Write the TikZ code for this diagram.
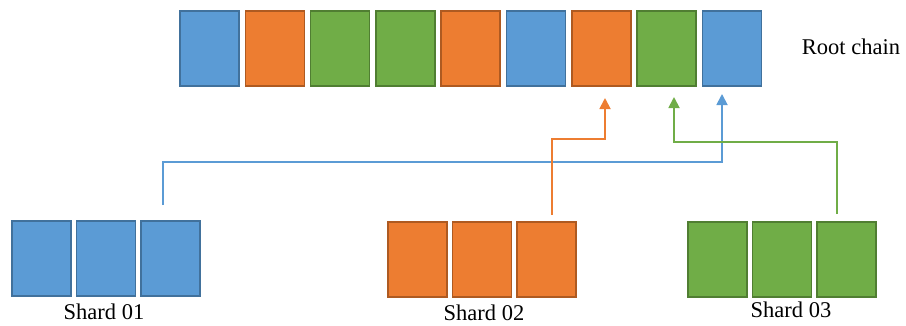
\documentclass[tikz,border=0pt]{standalone}
\usepackage{fontspec}
\setmainfont{Liberation Serif}
\usetikzlibrary{arrows.meta}
\definecolor{bluefill}{HTML}{5B9BD5}
\definecolor{blueedge}{HTML}{41719C}
\definecolor{orangefill}{HTML}{ED7D31}
\definecolor{orangeedge}{HTML}{AE5A21}
\definecolor{greenfill}{HTML}{70AD47}
\definecolor{greenedge}{HTML}{507E32}
\tikzset{
  block/.style={rectangle, inner sep=0pt, outer sep=0pt, line width=1.6pt,
    minimum width=59pt, minimum height=75pt, anchor=north west},
  bblock/.style={block, fill=bluefill, draw=blueedge},
  oblock/.style={block, fill=orangefill, draw=orangeedge},
  gblock/.style={block, fill=greenfill, draw=greenedge},
  label/.style={anchor=base, inner sep=0pt, font=\fontsize{22.5}{26}\selectfont},
  link/.style={line width=1.8pt, -{Triangle[length=11pt,width=11pt]}}
}
\begin{document}
\begin{tikzpicture}[x=1pt, y=-1pt]
  \useasboundingbox (0,0) rectangle (906,325);

  % root chain
  \node[bblock] (r1) at (180,11) {};
  \node[oblock] (r2) at (245.3,11) {};
  \node[gblock] (r3) at (310.6,11) {};
  \node[gblock] (r4) at (375.9,11) {};
  \node[oblock] (r5) at (441.2,11) {};
  \node[bblock] (r6) at (506.5,11) {};
  \node[oblock] (r7) at (571.8,11) {};
  \node[gblock] (r8) at (637.1,11) {};
  \node[bblock] (r9) at (702.4,11) {};
  \node[label] (rootlbl) at (851,54) {Root chain};

  % shard 01
  \node[bblock] (a1) at (12,221) {};
  \node[bblock] (a2) at (76.5,221) {};
  \node[bblock] (a3) at (141,221) {};
  \node[label] (albl) at (104,319) {Shard 01};

  % shard 02
  \node[oblock] (b1) at (388,222) {};
  \node[oblock] (b2) at (452.5,222) {};
  \node[oblock] (b3) at (517,222) {};
  \node[label] (blbl) at (484,320) {Shard 02};

  % shard 03
  \node[gblock] (c1) at (688,222) {};
  \node[gblock] (c2) at (752.5,222) {};
  \node[gblock] (c3) at (817,222) {};
  \node[label] (clbl) at (791,317) {Shard 03};

  % connector ends
  \coordinate (as) at (163,205);
  \coordinate (bs) at (552,215);
  \coordinate (cs) at (837,214);
  \coordinate (at) at (722,94);
  \coordinate (bt) at (605,98);
  \coordinate (ct) at (674,97);

  % shard blocks committed to the root chain
  \draw[link, bluefill] (as) -- (163,162) -| (at);
  \draw[link, orangefill] (bs) -- (552,139) -| (bt);
  \draw[link, greenfill] (cs) -- (837,142) -| (ct);
\end{tikzpicture}
\end{document}
